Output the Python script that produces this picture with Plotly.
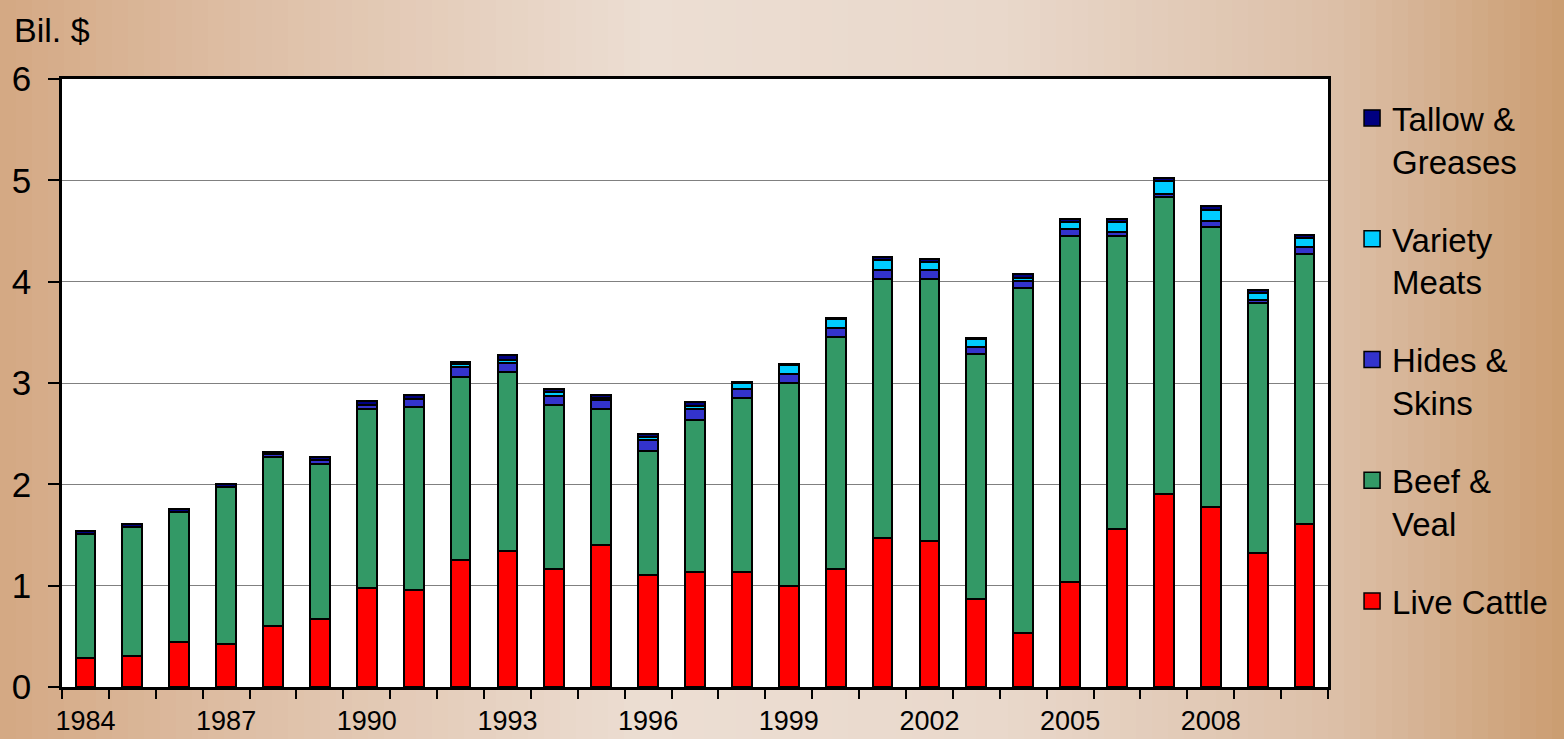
import plotly.graph_objects as go

years = list(range(1984, 2011))
live_cattle = [0.29, 0.31, 0.44, 0.42, 0.60, 0.67, 0.98, 0.96, 1.25, 1.34, 1.16, 1.40, 1.11, 1.13,
               1.13, 1.00, 1.16, 1.47, 1.44, 0.87, 0.53, 1.04, 1.56, 1.90, 1.78, 1.32, 1.61]
beef_veal = [1.22, 1.27, 1.29, 1.55, 1.67, 1.53, 1.76, 1.80, 1.81, 1.77, 1.62, 1.34, 1.22, 1.50,
             1.72, 2.00, 2.29, 2.56, 2.59, 2.42, 3.41, 3.41, 2.89, 2.94, 2.76, 2.47, 2.66]
hides_skins = [0.00, 0.00, 0.00, 0.00, 0.03, 0.04, 0.04, 0.08, 0.10, 0.09, 0.09, 0.09, 0.11, 0.11,
               0.09, 0.09, 0.09, 0.09, 0.09, 0.07, 0.07, 0.07, 0.04, 0.03, 0.06, 0.03, 0.07]
variety_meats = [0.00, 0.00, 0.00, 0.00, 0.00, 0.00, 0.00, 0.00, 0.03, 0.03, 0.04, 0.02, 0.03, 0.03,
                 0.06, 0.09, 0.09, 0.09, 0.07, 0.07, 0.03, 0.07, 0.10, 0.12, 0.11, 0.07, 0.09]
tallow_greases = [0.03, 0.03, 0.03, 0.03, 0.02, 0.03, 0.04, 0.04, 0.02, 0.05, 0.03, 0.03, 0.03, 0.04,
                  0.01, 0.01, 0.01, 0.03, 0.03, 0.01, 0.04, 0.03, 0.03, 0.03, 0.04, 0.03, 0.03]

series = [
    ("Live Cattle", live_cattle, "#FF0000"),
    ("Beef &<br>Veal", beef_veal, "#339966"),
    ("Hides &<br>Skins", hides_skins, "#3333CC"),
    ("Variety<br>Meats", variety_meats, "#00CCFF"),
    ("Tallow &<br>Greases", tallow_greases, "#000080"),
]
label_years = years[::3]

W, H = 1564, 739
ML, MR, MT, MB = 62, 236, 79, 52
PW, PH = W - ML - MR, H - MT - MB

fig = go.Figure()
n = len(series)
for i, (name, vals, col) in enumerate(series):
    fig.add_trace(go.Bar(
        x=years, y=vals, name=name, width=0.42, showlegend=False,
        marker=dict(color=col, line=dict(color="black", width=2)),
    ))
# legend entries (square swatches)
for i, (name, vals, col) in enumerate(series):
    fig.add_trace(go.Scatter(
        x=[None], y=[None], name=name, mode="markers",
        marker=dict(symbol="square", size=16, color=col, line=dict(color="black", width=1.5)),
        legendgroup=str(i), legendrank=n - i,
    ))

# background gradient (horizontal) via strips
stops = [(0, (212, 168, 131)), (250, (222, 191, 166)), (650, (236, 222, 211)),
         (1000, (233, 216, 203)), (1340, (220, 191, 167)), (1564, (203, 157, 113))]

def col_at(px):
    for (x0, c0), (x1, c1) in zip(stops[:-1], stops[1:]):
        if x0 <= px <= x1:
            t = (px - x0) / (x1 - x0)
            return tuple(int(round(a + (b - a) * t)) for a, b in zip(c0, c1))
    return stops[-1][1]

shapes = []
step = 16
for px in range(0, W, step):
    c = col_at(px + step / 2)
    shapes.append(dict(type="rect", xref="paper", yref="paper", layer="below",
                       x0=(px - ML) / PW, x1=(px + step + 1 - ML) / PW,
                       y0=-(MB + 5) / PH, y1=(H - MB + 5) / PH,
                       fillcolor="rgb(%d,%d,%d)" % c, line=dict(width=0)))
shapes.append(dict(type="rect", xref="paper", yref="paper", layer="below",
                   x0=0, x1=1, y0=0, y1=1, fillcolor="white", line=dict(width=0)))

fig.update_layout(
    width=W, height=H,
    margin=dict(l=ML, r=MR, t=MT, b=MB, autoexpand=False),
    barmode="stack",
    paper_bgcolor="rgba(0,0,0,0)",
    plot_bgcolor="rgba(0,0,0,0)",
    font=dict(family="Arial, Liberation Sans, sans-serif", color="black"),
    shapes=shapes,
    xaxis=dict(
        range=[1983.5, 2010.5], tickvals=label_years, ticktext=[str(y) for y in label_years],
        ticks="outside", ticklen=0, tickfont=dict(size=27), showgrid=False, automargin=False,
        showline=True, linecolor="black", linewidth=2.5, mirror=True, zeroline=False,
        ticklabelstandoff=8,
        minor=dict(tickvals=[y - 0.5 for y in years] + [2010.5], ticks="outside",
                   ticklen=9, tickwidth=2, tickcolor="black", showgrid=False),
    ),
    yaxis=dict(
        range=[0, 6], dtick=1, ticks="outside", ticklen=11, tickwidth=2, tickcolor="black",
        tickfont=dict(size=35), showgrid=True, gridcolor="#808080", gridwidth=1.3,
        automargin=False,
        showline=True, linecolor="black", linewidth=2.5, mirror=True, zeroline=False,
        ticklabelstandoff=10,
    ),
    legend=dict(
        x=1.019, xanchor="left", y=0.982, yanchor="top", traceorder="grouped",
        font=dict(size=33), valign="top", tracegroupgap=32, bgcolor="rgba(0,0,0,0)",
        itemsizing="trace",
    ),
    annotations=[dict(text="Bil. $", xref="paper", yref="paper",
                      x=-50 / PW, y=(H - MB - 30) / PH, xanchor="left", yanchor="middle",
                      showarrow=False, font=dict(size=34))],
)

fig.write_html("out.html", config={"displayModeBar": False},
               post_script="document.body.style.margin='0';document.body.style.overflow='hidden';")
